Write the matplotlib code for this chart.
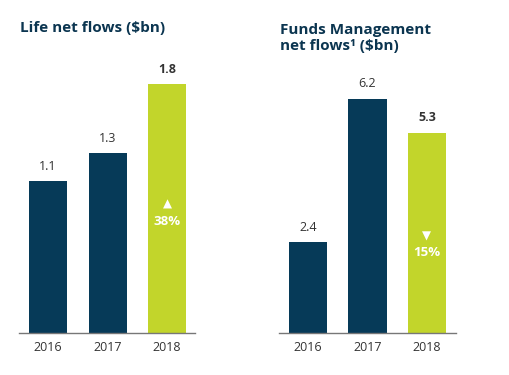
import matplotlib
matplotlib.use('Agg')
import matplotlib.pyplot as plt
import matplotlib.transforms as mtransforms

plt.rcParams['font.family'] = ['Open Sans', 'DejaVu Sans']

# data
years = ['2016', '2017', '2018']
life_values = [1.1, 1.3, 1.8]
life_change = '38%'
funds_values = [2.4, 6.2, 5.3]
funds_change = '15%'

navy = '#063a58'
green = '#c2d52b'
text_col = '#333333'
title_col = '#0b3550'

fig = plt.figure(figsize=(5.1, 3.75), dpi=100)


def panel(ax, values, change, up, ytop, xright, ytri, ytxt):
    colors = [navy, navy, green]
    x = range(len(years))
    bars = ax.bar(x, values, width=0.64, color=colors)
    ax.set_xlim(-0.49, xright)
    ax.set_ylim(0, ytop)
    for i, b in enumerate(bars):
        h = b.get_height()
        ax.annotate('%.1f' % h, (b.get_x() + b.get_width() / 2, h),
                    xytext=(0, 6), textcoords='offset points',
                    ha='center', va='bottom', fontsize=9, color=text_col,
                    fontweight='bold' if i == 2 else 'normal')
    # change marker inside the last bar
    trans = mtransforms.blended_transform_factory(ax.transData, ax.transAxes)
    last = bars[2]
    cx = last.get_x() + last.get_width() / 2
    ax.text(cx, ytri, '▲' if up else '▼', transform=trans,
            ha='center', va='center', fontsize=8.5, color='white',
            family=['DejaVu Sans'])
    ax.text(cx, ytxt, change, transform=trans, ha='center', va='center',
            fontsize=9.5, color='white', fontweight='bold')
    ax.set_xticks(list(x))
    ax.set_xticklabels(years, fontsize=9, color=text_col)
    ax.tick_params(axis='x', length=0, pad=6)
    ax.set_yticks([])
    for s in ['top', 'right', 'left']:
        ax.spines[s].set_visible(False)
    ax.spines['bottom'].set_color('#777777')
    ax.spines['bottom'].set_linewidth(1.0)


ax1 = fig.add_axes([19 / 510, 42 / 375, 176 / 510, 293 / 375])
panel(ax1, life_values, life_change, True, 2.12, 2.47, 0.44, 0.382)

ax2 = fig.add_axes([279 / 510, 42 / 375, 177 / 510, 293 / 375])
panel(ax2, funds_values, funds_change, False, 7.75, 2.49, 0.331, 0.276)

fig.text(20 / 510, 1 - 28 / 375, 'Life net flows ($bn)', fontsize=11,
         fontweight='bold', color=title_col, ha='left', va='center')
fig.text(280 / 510, 1 - 38 / 375, 'Funds Management\nnet flows¹ ($bn)',
         fontsize=11, fontweight='bold', color=title_col, ha='left',
         va='center', linespacing=1.1)

fig.savefig('out.png', dpi=100)
